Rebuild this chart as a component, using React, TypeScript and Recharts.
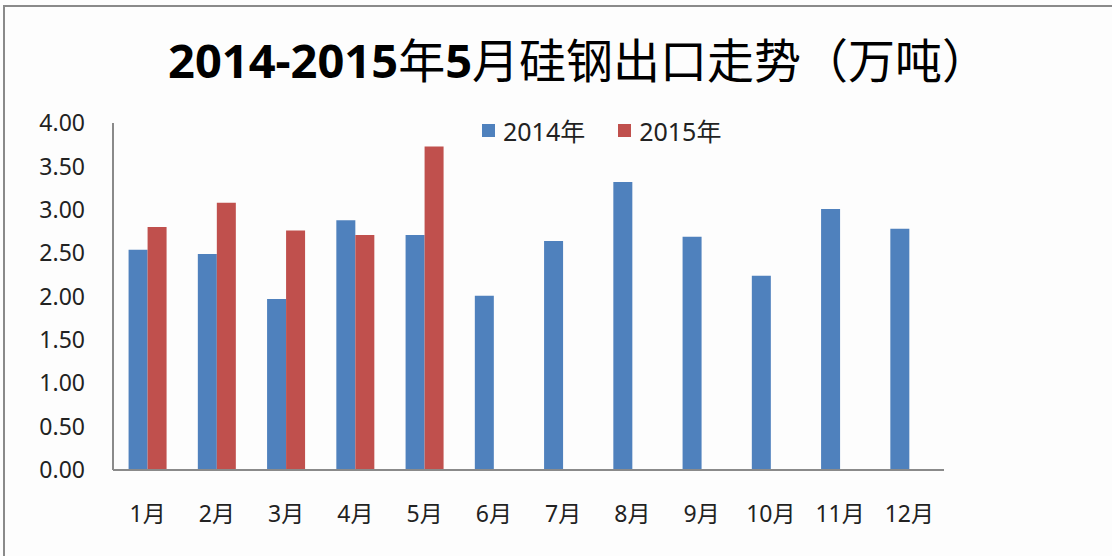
import { BarChart, Bar, XAxis, YAxis } from "recharts";

const months = ["1月", "2月", "3月", "4月", "5月", "6月", "7月", "8月", "9月", "10月", "11月", "12月"];
const exports2014 = [2.54, 2.49, 1.97, 2.88, 2.71, 2.01, 2.64, 3.32, 2.69, 2.24, 3.01, 2.78];
const exports2015 = [2.80, 3.08, 2.76, 2.71, 3.73, null, null, null, null, null, null, null];
const yTicks = [0, 0.5, 1, 1.5, 2, 2.5, 3, 3.5, 4];

const BLUE = "#4F81BD";
const RED = "#C0504D";
const FONT = "'Noto Sans', 'Noto Sans CJK SC', sans-serif";

const chartData = months.map((m, i) => ({
  name: m,
  y2014: exports2014[i],
  y2015: exports2015[i],
}));

export default function App() {
  return (
    <div style={{ position: "absolute", left: 0, top: 0, width: 1112, height: 556, background: "#fdfdfd", overflow: "hidden" }}>
      {/* frame: top and left edges only, like the cropped screenshot */}
      <div style={{ position: "absolute", left: 4, top: 5, right: 0, height: 2, background: "#8a8a8a" }} />
      <div style={{ position: "absolute", left: 3, top: 5, bottom: 0, width: 2, background: "#8a8a8a" }} />
      <div
        style={{
          position: "absolute", top: 112, left: 482, display: "flex", alignItems: "center",
          fontFamily: FONT, fontSize: 25, color: "#222", zIndex: 2,
        }}
      >
        <span style={{ width: 13, height: 13, background: BLUE, display: "inline-block", marginRight: 8 }} />
        <span style={{ marginRight: 33 }}>2014年</span>
        <span style={{ width: 13, height: 13, background: RED, display: "inline-block", marginRight: 8 }} />
        <span>2015年</span>
      </div>
      <BarChart
        width={1112}
        height={556}
        data={chartData}
        margin={{ top: 123, right: 168, left: 13, bottom: 56 }}
        barCategoryGap="22.5%"
        barGap={0}
      >
        <text x={168} y={78} fontFamily={FONT} fontSize={47} fill="#000">
          <tspan fontWeight={700}>2014-2015</tspan>
          <tspan fontWeight={400}>年</tspan>
          <tspan fontWeight={700}>5</tspan>
          <tspan fontWeight={400}>月硅钢出口走势（万吨）</tspan>
        </text>
        <XAxis
          dataKey="name"
          height={30}
          axisLine={{ stroke: "#8a8a8a", strokeWidth: 2 }}
          tickLine={false}
          tickMargin={30}
          tick={{ fontSize: 23, fill: "#222", fontFamily: FONT }}
          interval={0}
        />
        <YAxis
          width={100}
          domain={[0, 4]}
          ticks={yTicks}
          tickFormatter={(v: number) => v.toFixed(2)}
          axisLine={{ stroke: "#8a8a8a", strokeWidth: 2 }}
          tickLine={false}
          tickMargin={22}
          tick={{ fontSize: 23, fill: "#222", fontFamily: FONT }}
        />
        <Bar dataKey="y2014" name="2014年" fill={BLUE} isAnimationActive={false} />
        <Bar dataKey="y2015" name="2015年" fill={RED} isAnimationActive={false} />
      </BarChart>
    </div>
  );
}
